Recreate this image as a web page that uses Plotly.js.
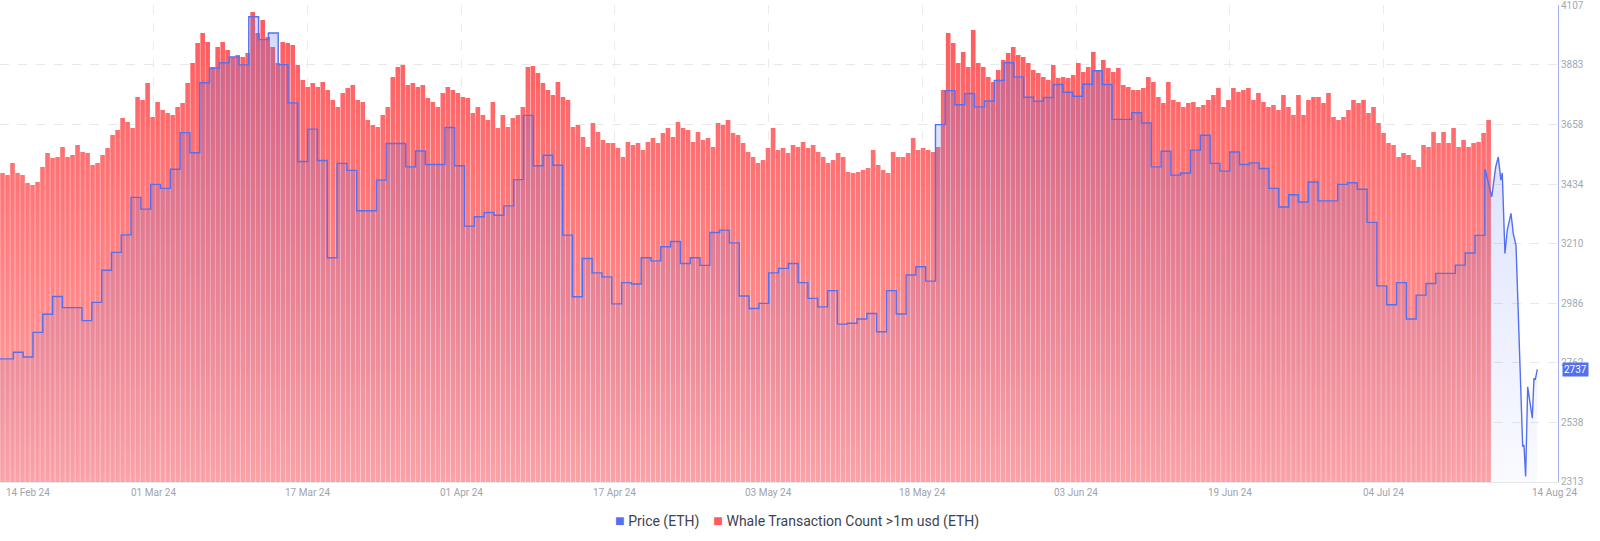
<!DOCTYPE html>
<html>
<head>
<meta charset="utf-8">
<script src="https://cdn.plot.ly/plotly-3.0.1.min.js"></script>
<style>
html,body{margin:0;padding:0;background:#fff;}
#chart{width:1600px;height:541px;}
</style>
</head>
<body>
<div id="chart"></div>
<script>
// Whale Transaction Count >1m usd (ETH) – equal buckets spanning 14 Feb – 14 Jul 2024
const whaleCount = [
309,307,319,309,307,299,297,300,315,329,324,325,335,325,327,337,330,329,317,319,
327,334,347,352,364,360,354,385,382,399,365,380,372,369,367,375,379,399,419,439,
449,440,415,435,440,432,425,427,425,429,470,449,462,445,435,419,440,439,437,417,
402,395,
399,395,400,392,382,375,389,394,397,382,380,362,357,355,367,375,405,415,417,397,
399,395,397,384,380,375,389,395,392,389,385,384,369,375,367,362,380,354,367,355,
364,367,375,415,416,409,399,392,387,400,385,382,355,357,345,335,359,350,342,339,
339,334,325,340,337,339,332,340,344,339,349,354,345,360,354,352,340,350,342,344,
335,359,357,362,349,347,339,330,325,319,322,334,354,332,334,329,337,335,340,334,
337,330,325,319,322,329,325,310,309,310,312,314,332,317,312,309,330,325,325,329,
344,332,334,332,330,335,392,449,439,419,430,415,452,419,415,405,400,412,422,429,
435,427,425,419,412,409,405,402,417,404,405,404,407,419,410,415,430,412,422,414,
410,414,397,395,392,392,394,405,400,385,379,400,382,380,375,379,380,375,377,382,
387,394,375,382,394,390,392,394,382,389,380,375,377,372,387,375,367,387,367,382,
385,385,379,389,365,362,365,372,382,379,382,369,375,359,349,339,337,325,329,327,
322,315,337,335,350,339,350,339,354,335,342,335,339,340,349,362
];
const whaleSpanDays = 152;          // 14 Feb – 14 Jul 2024

// Daily ETH price (USD), 13 Feb – 15 Jul 2024
const priceDaily = [
2776,2776,2801,2783,2876,2944,3011,2969,2969,2920,2989,3110,3177,3243,3384,3340,3433,3418,3490,3628,
3552,3816,3871,3891,3913,3883,4064,3978,4003,3884,3740,3519,3641,3523,3157,3512,3486,3334,3334,3449,
3587,3587,3499,3559,3508,3508,3647,3503,3276,3311,3327,3317,3352,3451,3693,3503,3543,3505,3242,3010,
3154,3100,3085,2983,3063,3058,3157,3145,3198,3218,3135,3157,3128,3252,3261,3213,3013,2966,2985,3100,
3117,3135,3063,3004,2972,3033,2907,2910,2926,2947,2878,3033,2945,3092,3123,3069,3658,3786,3733,3775,
3725,3747,3824,3891,3838,3761,3746,3760,3809,3780,3765,3810,3861,3809,3678,3678,3703,3664,3499,3558,
3468,3476,3562,3618,3512,3483,3555,3508,3514,3493,3418,3348,3394,3367,3442,3371,3371,3433,3439,3415,
3290,3051,2980,3063,2926,3016,3060,3098,3098,3129,3175,3241,3489
];
const priceDayOffset = -0.64;       // first daily value (13 Feb) on the day scale

// Price after the whale series ends (compressed end section of the axis)
const priceTailX = [151.4,152.06,152.47,152.73,153.0,153.14,153.41,153.65,154.03,154.26,154.54,
                    155.22,155.35,155.52,155.73,155.96,156.2,156.37,156.5,156.71];
const priceTail  = [3489,3386,3499,3536,3449,3476,3173,3261,3324,3248,3204,
                    2446,2452,2333,2671,2606,2553,2703,2697,2737];

const xTickDays   = [0,15.67,31.35,47.02,62.69,78.37,94.04,109.71,125.38,141.06,158.82];
const xTickLabels = ['14 Feb 24','01 Mar 24','17 Mar 24','01 Apr 24','17 Apr 24','03 May 24',
                     '18 May 24','03 Jun 24','19 Jun 24','04 Jul 24','14 Aug 24'];
const priceTicks  = [2313,2538,2762,2986,3210,3434,3658,3883,4107];
const seriesNames = ['Price (ETH)','Whale Transaction Count >1m usd (ETH)'];
const lastPrice   = 2737;

const PRICE_COLOR = '#5470f0';
const WHALE_COLOR = '#ff5a5c';

const barStep = whaleSpanDays / whaleCount.length;
const whaleX = whaleCount.map((_, i) => (i + 0.5) * barStep);
// step outline of the bars (left edges plus the closing right edge)
const whaleEdgeX = whaleCount.map((_, i) => i * barStep).concat([whaleSpanDays]);
const whaleEdgeY = whaleCount.concat([whaleCount[whaleCount.length - 1]]);
const priceX = priceDaily.map((_, j) => j + priceDayOffset);

const priceMin = priceTicks[0], priceMax = priceTicks[priceTicks.length - 1];
const priceGradient = {
  type: 'vertical', start: priceMin, stop: priceMax,
  colorscale: [[0, 'rgba(84,112,240,0.03)'], [1, 'rgba(84,112,240,0.27)']]
};

const traces = [
  {
    type: 'bar', x: whaleX, y: whaleCount, name: seriesNames[1],
    marker: {color: WHALE_COLOR, line: {width: 0}},
    xaxis: 'x', yaxis: 'y', hoverinfo: 'skip', showlegend: false
  },
  {
    type: 'scatter', x: whaleEdgeX, y: whaleEdgeY, mode: 'none',
    line: {shape: 'hv'}, fill: 'tozeroy',
    fillgradient: {type: 'vertical',
      colorscale: [[0, 'rgba(255,255,255,0.45)'], [1, 'rgba(255,255,255,0)']]},
    xaxis: 'x', yaxis: 'y', hoverinfo: 'skip', showlegend: false
  },
  {
    type: 'scatter', x: priceX, y: priceDaily, name: seriesNames[0], mode: 'lines',
    line: {shape: 'hv', color: PRICE_COLOR, width: 1.4},
    fill: 'tozeroy', fillgradient: priceGradient,
    xaxis: 'x', yaxis: 'y2', hoverinfo: 'skip', showlegend: false
  },
  {
    type: 'scatter', x: priceTailX, y: priceTail, name: seriesNames[0], mode: 'lines',
    line: {shape: 'linear', color: PRICE_COLOR, width: 1.4},
    fill: 'tozeroy', fillgradient: priceGradient,
    xaxis: 'x', yaxis: 'y2', hoverinfo: 'skip', showlegend: false
  }
];

const annotations = xTickDays.map((d, i) => ({
  x: d, y: 0, xref: 'x', yref: 'paper', yanchor: 'top', yshift: -3,
  xanchor: i === 0 ? 'left' : 'center',
  xshift: i === 0 ? 4 : (i === xTickDays.length - 1 ? -4 : 0),
  text: xTickLabels[i], showarrow: false,
  font: {family: 'Roboto, sans-serif', size: 10, color: '#9ea3ad'}
}));

annotations.push({
  xref: 'paper', x: 1, xanchor: 'left', xshift: 4,
  yref: 'y2', y: lastPrice, yanchor: 'middle',
  text: String(lastPrice), showarrow: false, bgcolor: PRICE_COLOR, borderpad: 1,
  font: {family: 'Roboto, sans-serif', size: 10, color: '#ffffff'}
});

const nb = '\u00a0';
annotations.push({
  xref: 'paper', x: 0.5, xanchor: 'center', xshift: 18,
  yref: 'paper', y: 0, yanchor: 'middle', yshift: -38,
  showarrow: false,
  text: '<span style="color:' + PRICE_COLOR + ';font-size:16px">■</span>' + nb + seriesNames[0] +
        nb + nb + nb + nb + '<span style="color:' + WHALE_COLOR + ';font-size:16px">■</span>' + nb + seriesNames[1],
  font: {family: 'Roboto, sans-serif', size: 14, color: '#3d4250'}
});

const layout = {
  width: 1600, height: 541,
  margin: {l: 0, r: 42, t: 5, b: 59, pad: 0},
  paper_bgcolor: '#ffffff', plot_bgcolor: '#ffffff',
  showlegend: false, bargap: 0.08, hovermode: false,
  font: {family: 'Roboto, sans-serif'},
  xaxis: {
    range: [0, 158.82], tickvals: xTickDays, ticktext: xTickLabels,
    showticklabels: false, ticks: '', showgrid: true, gridcolor: '#ebebeb', griddash: 'dash',
    zeroline: false, showline: true, linecolor: '#e6e6e6', fixedrange: true
  },
  yaxis: {range: [0, 477], visible: false, fixedrange: true},
  yaxis2: {
    overlaying: 'y', side: 'right', range: [priceMin - 0.5, priceMax + 1.5],
    tickvals: priceTicks, ticktext: priceTicks.map(String), ticks: '',
    ticklabeloverflow: 'allow',
    showgrid: true, gridcolor: '#e8e8e8', griddash: 'dash',
    zeroline: false, showline: true, linecolor: '#a3adf3', linewidth: 1,
    tickfont: {family: 'Roboto, sans-serif', size: 10, color: '#a3a8b2'}, fixedrange: true
  },
  annotations: annotations
};

Plotly.newPlot('chart', traces, layout, {staticPlot: true, displayModeBar: false});
</script>
</body>
</html>
